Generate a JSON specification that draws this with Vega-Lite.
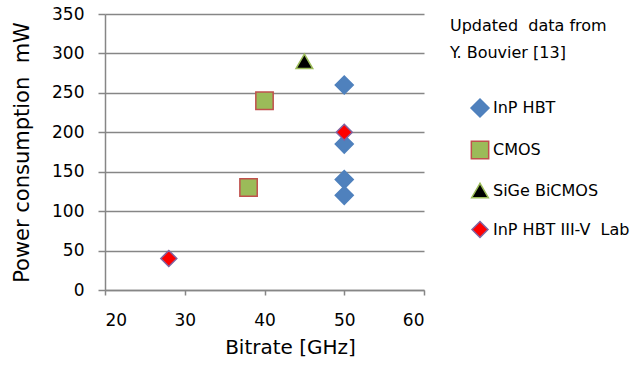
{
  "$schema": "https://vega.github.io/schema/vega-lite/v6.json",
  "width": 319,
  "height": 276,
  "autosize": {"type": "none"},
  "padding": {"left": 105, "top": 14, "right": 218, "bottom": 80},
  "background": "white",
  "config": {"view": {"stroke": null}, "font": "DejaVu Sans"},
  "data": {
    "values": [
      {"tech": "InP HBT", "bitrate": 50, "power": 260},
      {"tech": "InP HBT", "bitrate": 50, "power": 185},
      {"tech": "InP HBT", "bitrate": 50, "power": 140},
      {"tech": "InP HBT", "bitrate": 50, "power": 120},
      {"tech": "CMOS", "bitrate": 38, "power": 130},
      {"tech": "CMOS", "bitrate": 40, "power": 240},
      {"tech": "SiGe BiCMOS", "bitrate": 45, "power": 290},
      {"tech": "InP HBT III-V\u00a0 Lab", "bitrate": 28, "power": 40},
      {"tech": "InP HBT III-V\u00a0 Lab", "bitrate": 50, "power": 200}
    ]
  },
  "mark": {"type": "point", "filled": true, "strokeWidth": 1.5, "opacity": 1},
  "encoding": {
    "x": {
      "field": "bitrate", "type": "quantitative",
      "scale": {"domain": [20, 60], "nice": false, "zero": false},
      "axis": {
        "values": [20, 30, 40, 50, 60], "grid": false,
        "domainColor": "#868686", "domainWidth": 1.5, "tickColor": "#868686", "tickSize": 5, "tickWidth": 1.5,
        "labelFontSize": 17, "labelColor": "#000", "labelPadding": 17,
        "title": "Bitrate [GHz]", "titleFontSize": 20, "titleFontWeight": "normal", "titleColor": "#000",
        "titlePadding": 9, "titleX": 185
      }
    },
    "y": {
      "field": "power", "type": "quantitative",
      "scale": {"domain": [0, 350], "nice": false},
      "axis": {
        "values": [0, 50, 100, 150, 200, 250, 300, 350], "grid": true, "gridColor": "#868686", "gridWidth": 1.5,
        "domainColor": "#868686", "domainWidth": 1.5, "tickColor": "#868686", "tickSize": 7, "tickWidth": 1.5,
        "labelFontSize": 17, "labelColor": "#000", "labelPadding": 14,
        "title": "Power consumption\u00a0 mW", "titleFontSize": 21, "titleFontWeight": "normal", "titleColor": "#000",
        "titlePadding": 19
      }
    },
    "shape": {
      "field": "tech", "type": "nominal",
      "scale": {"domain": ["InP HBT", "CMOS", "SiGe BiCMOS", "InP HBT III-V\u00a0 Lab"], "range": ["diamond", "square", "triangle-up", "diamond"]},
      "legend": {"orient": "none", "legendX": 345, "legendY": 4, "title": ["Updated\u00a0 data from", "Y. Bouvier [13]"], "titleFontSize": 16, "titleFontWeight": "normal", "titleColor": "#000", "titleLineHeight": 27, "titlePadding": 37, "labelFontSize": 16, "labelColor": "#000", "labelOffset": 3, "symbolOffset": 20, "rowPadding": 17.5, "symbolStrokeWidth": 1.5}
    },
    "fill": {
      "field": "tech", "type": "nominal",
      "scale": {"domain": ["InP HBT", "CMOS", "SiGe BiCMOS", "InP HBT III-V\u00a0 Lab"], "range": ["#4F81BD", "#9BBB59", "#000000", "#FF0000"]},
      "legend": {"orient": "none", "legendX": 345, "legendY": 4, "title": ["Updated\u00a0 data from", "Y. Bouvier [13]"], "titleFontSize": 16, "titleFontWeight": "normal", "titleColor": "#000", "titleLineHeight": 27, "titlePadding": 37, "labelFontSize": 16, "labelColor": "#000", "labelOffset": 3, "symbolOffset": 20, "rowPadding": 17.5, "symbolStrokeWidth": 1.5}
    },
    "stroke": {
      "field": "tech", "type": "nominal",
      "scale": {"domain": ["InP HBT", "CMOS", "SiGe BiCMOS", "InP HBT III-V\u00a0 Lab"], "range": ["#4F81BD", "#C0504D", "#9BBB59", "#8064A2"]},
      "legend": {"orient": "none", "legendX": 345, "legendY": 4, "title": ["Updated\u00a0 data from", "Y. Bouvier [13]"], "titleFontSize": 16, "titleFontWeight": "normal", "titleColor": "#000", "titleLineHeight": 27, "titlePadding": 37, "labelFontSize": 16, "labelColor": "#000", "labelOffset": 3, "symbolOffset": 20, "rowPadding": 17.5, "symbolStrokeWidth": 1.5}
    },
    "size": {
      "field": "tech", "type": "nominal",
      "scale": {"domain": ["InP HBT", "CMOS", "SiGe BiCMOS", "InP HBT III-V\u00a0 Lab"], "range": [324, 256, 256, 196]},
      "legend": {"orient": "none", "legendX": 345, "legendY": 4, "title": ["Updated\u00a0 data from", "Y. Bouvier [13]"], "titleFontSize": 16, "titleFontWeight": "normal", "titleColor": "#000", "titleLineHeight": 27, "titlePadding": 37, "labelFontSize": 16, "labelColor": "#000", "labelOffset": 3, "symbolOffset": 20, "rowPadding": 17.5, "symbolStrokeWidth": 1.5}
    }
  }
}
